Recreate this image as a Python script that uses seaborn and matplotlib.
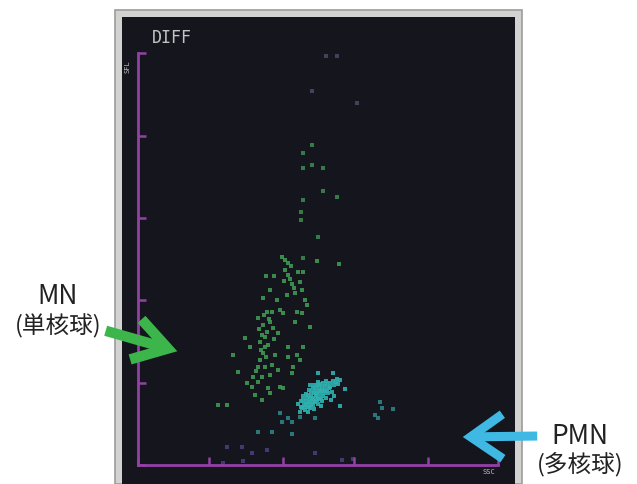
import numpy as np
import pandas as pd
import matplotlib
matplotlib.use("Agg")
import matplotlib.pyplot as plt
from matplotlib.patches import Rectangle, FancyArrowPatch
import seaborn as sns

plt.rcParams['font.family'] = ['Noto Sans CJK JP', 'DejaVu Sans']

# ---- data (channel units: SSC on x, SFL on y) ----
top_ssc = [188, 199, 174, 219]
top_sfl = [409, 409, 374, 362]

upper_ssc = [174, 165, 174, 165, 185, 185, 199, 165, 163, 163, 180, 165]
upper_sfl = [320, 312, 300, 297, 297, 274, 268, 265, 253, 245, 228, 207]

mn_ssc = [144, 147, 150, 153, 179, 201, 128, 136, 152, 154, 156, 160, 165, 162, 157, 164, 167, 169,
          132, 125, 139, 129, 134, 142, 145, 159, 164, 157, 120, 125, 132, 135, 129, 124, 172, 107,
          127, 122, 127, 125, 122, 120, 127, 134, 124, 120, 115, 112, 95, 100, 109, 114, 130, 132,
          142, 145, 150, 159, 150, 162, 155, 154, 165, 80, 89, 140, 147, 150, 130, 137, 132, 140, 117, 124,
          126, 131, 121, 146, 149, 128, 136, 118, 123]
mn_sfl = [208, 205, 202, 199, 204, 201, 189, 189, 186, 181, 177, 193, 193, 183, 172, 175, 165, 160,
          175, 167, 165, 153, 153, 155, 152, 153, 152, 143, 147, 140, 143, 137, 133, 130, 138, 127,
          128, 123, 118, 112, 105, 98, 98, 100, 88, 83, 88, 118, 110, 93, 82, 78, 77, 72,
          78, 77, 118, 110, 108, 105, 98, 92, 118, 60, 60, 132, 195, 190, 120, 110, 90, 95, 70, 65,
          150, 146, 136, 184, 170, 108, 126, 94, 115]

pmn_ssc = [162, 164, 166, 160, 165, 169, 168, 171, 172, 175, 174, 177, 180, 178, 181, 184, 176, 179,
           182, 185, 173, 170, 175, 178, 181, 184, 187, 186, 189, 192, 195, 198, 200, 191, 194, 196,
           188, 183, 167, 170, 165, 172, 180, 188, 202, 207, 202, 193, 195, 180, 173, 182, 176, 168,
           179, 190, 163, 166, 169, 171, 174, 177, 180, 183, 186, 189, 192, 172, 175, 178, 181, 184,
           187, 170, 173, 176, 179, 182, 185, 168, 171, 177, 163, 196, 199]
pmn_sfl = [53, 57, 61, 61, 65, 67, 60, 63, 57, 60, 67, 64, 61, 69, 67, 64, 72, 72,
           71, 69, 73, 70, 77, 77, 79, 78, 79, 74, 81, 82, 84, 83, 81, 77, 73, 69,
           67, 59, 55, 53, 69, 80, 83, 84, 85, 76, 59, 65, 92, 92, 69, 75, 56, 64,
           65, 72, 58, 58, 58, 58, 63, 63, 66, 66, 72, 74, 78, 66, 66, 70, 74, 74,
           75, 61, 61, 80, 80, 81, 82, 71, 75, 74, 64, 80, 86]

low_ssc = [142, 150, 144, 154, 162, 177, 120, 134, 154, 242, 244, 255, 237, 240]
low_sfl = [52, 47, 43, 43, 48, 47, 33, 33, 31, 63, 57, 56, 50, 47]

debris_ssc = [89, 104, 114, 129, 177, 204, 215, 105, 85]
debris_sfl = [18, 18, 12, 15, 12, 5, 6, 4, 2]

x_ticks = [0, 71, 145, 216, 290, 360]
y_ticks = [0, 82, 165, 247, 329, 412]

groups = {
    "top": (top_ssc, top_sfl),
    "upper": (upper_ssc, upper_sfl),
    "mn": (mn_ssc, mn_sfl),
    "pmn": (pmn_ssc, pmn_sfl),
    "low": (low_ssc, low_sfl),
    "debris": (debris_ssc, debris_sfl),
}
frames = [pd.DataFrame({"ssc": xs, "sfl": ys, "grp": g}) for g, (xs, ys) in groups.items()]
df = pd.concat(frames, ignore_index=True)
palette = {"top": "#47465f", "upper": "#3a874c", "mn": "#3e9852",
           "pmn": "#30b0b0", "low": "#2c8285", "debris": "#4b3c7a"}

W, H = 637, 484
fig = plt.figure(figsize=(W / 100, H / 100), dpi=100)
fig.patch.set_facecolor("white")

def fx(px):
    return px / W

def fy(py):
    return 1 - py / H

# instrument frame
fig.patches.append(Rectangle((fx(115), fy(484)), fx(522) - fx(115), fy(10) - fy(484),
                             transform=fig.transFigure, facecolor="#d2d2d0",
                             edgecolor="#9c9c9c", linewidth=1.2, zorder=-5))

ax = fig.add_axes([fx(122), fy(484), fx(515) - fx(122), fy(17) - fy(484)])
ax.set_zorder(2)
ax.set_facecolor("#15161d")

sns.scatterplot(data=df, x="ssc", y="sfl", hue="grp", palette=palette, marker="s",
                s=10, linewidth=0, alpha=0.9, legend=False, ax=ax)

ax.set_xlim(122 - 138, 515 - 138)
ax.set_ylim(465 - 484, 465 - 17)
purple = "#9440a6"
for side in ["top", "right"]:
    ax.spines[side].set_visible(False)
ax.spines["left"].set_position(("data", 0))
ax.spines["bottom"].set_position(("data", 0))
ax.spines["left"].set_bounds(0, y_ticks[-1])
ax.spines["bottom"].set_bounds(0, x_ticks[-1])
for side in ["left", "bottom"]:
    ax.spines[side].set_color(purple)
    ax.spines[side].set_linewidth(2)
    ax.spines[side].set_capstyle("projecting")
ax.set_xticks(x_ticks)
ax.set_yticks(y_ticks)
ax.tick_params(direction="in", length=6, width=1.8, color=purple,
               labelleft=False, labelbottom=False)
ax.set_xlabel("")
ax.set_ylabel("")

ax.text(0.075, 0.955, "DIFF", transform=ax.transAxes, family="DejaVu Sans Mono",
        fontsize=12, color="#c4c4c4", ha="left", va="center")
ax.text(0.015, 0.893, "SFL", transform=ax.transAxes, family="DejaVu Sans Mono",
        fontsize=5, color="#bdbdbd", rotation=90, ha="center", va="center")
ax.text(0.934, 0.026, "SSC", transform=ax.transAxes, family="DejaVu Sans Mono",
        fontsize=5, color="#bdbdbd", ha="center", va="center")

# annotations
fig.text(fx(58), fy(297), "MN", fontsize=19, color="#222222", ha="center", va="center")
fig.text(fx(58), fy(326), "(単核球)", fontsize=17, color="#222222", ha="center", va="center")
fig.text(fx(580), fy(437), "PMN", fontsize=19, color="#222222", ha="center", va="center")
fig.text(fx(580), fy(464), "(多核球)", fontsize=17, color="#222222", ha="center", va="center")

fig.patches.append(FancyArrowPatch((fx(103), fy(330)), (fx(180), fy(352)),
                                   transform=fig.transFigure,
                                   arrowstyle="->,head_length=2.4,head_width=1.5",
                                   mutation_scale=10, linewidth=7.5, color="#3cb54a",
                                   capstyle="butt", joinstyle="miter", zorder=5))
fig.patches.append(FancyArrowPatch((fx(540), fy(436)), (fx(460), fy(437)),
                                   transform=fig.transFigure,
                                   arrowstyle="->,head_length=2.3,head_width=1.6",
                                   mutation_scale=10, linewidth=6.5, color="#3fb8e4",
                                   capstyle="butt", joinstyle="miter", zorder=5))

fig.savefig("out.png", dpi=100)
